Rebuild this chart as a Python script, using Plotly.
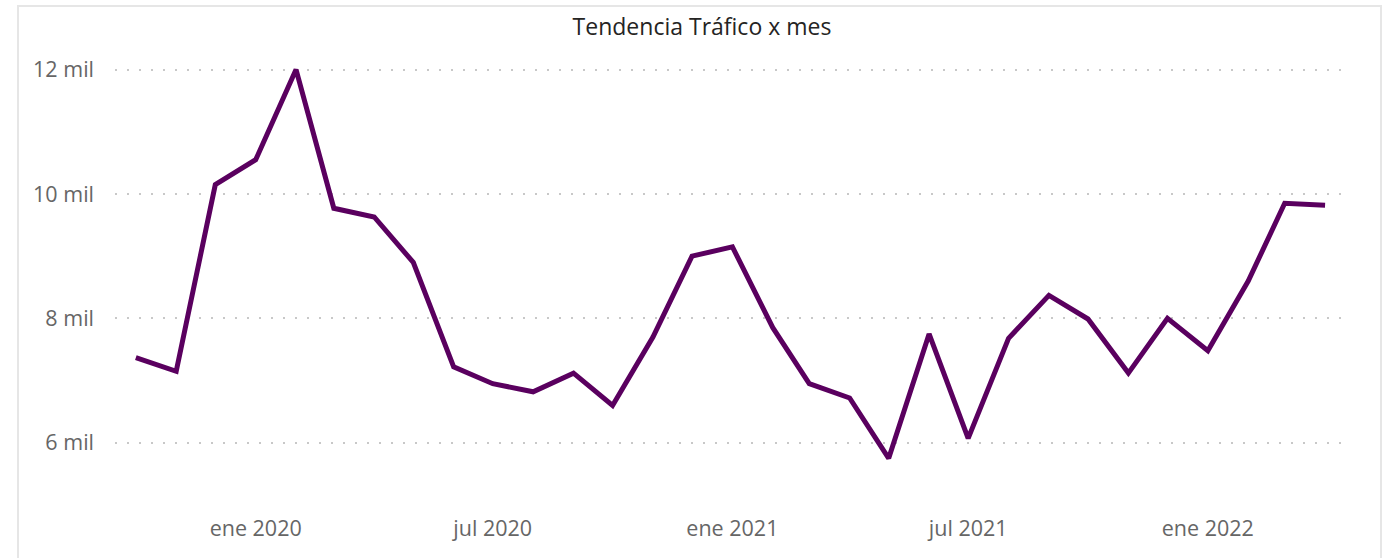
import plotly.graph_objects as go

months = ["2019-10-01","2019-11-01","2019-12-01","2020-01-01","2020-02-01","2020-03-01",
          "2020-04-01","2020-05-01","2020-06-01","2020-07-01","2020-08-01","2020-09-01",
          "2020-10-01","2020-11-01","2020-12-01","2021-01-01","2021-02-01","2021-03-01",
          "2021-04-01","2021-05-01","2021-06-01","2021-07-01","2021-08-01","2021-09-01",
          "2021-10-01","2021-11-01","2021-12-01","2022-01-01","2022-02-01","2022-03-01",
          "2022-04-01"]
traffic = [7370, 7150, 10150, 10550, 12000, 9770,
           9630, 8900, 7220, 6950, 6820, 7120,
           6600, 7700, 9000, 9150, 7850, 6950,
           6720, 5750, 7750, 6070, 7680, 8370,
           7990, 7120, 8000, 7480, 8600, 9850,
           9820]

x_tick_vals = ["2020-01-01", "2020-07-01", "2021-01-01", "2021-07-01", "2022-01-01"]
x_tick_text = ["ene 2020", "jul 2020", "ene 2021", "jul 2021", "ene 2022"]
y_tick_vals = [6000, 8000, 10000, 12000]
y_tick_text = ["6 mil", "8 mil", "10 mil", "12 mil"]

W, H = 1388, 558
ML, MR, MT, MB = 115, W - 1342, 54, H - 505

fig = go.Figure()
fig.add_trace(go.Scatter(
    x=months, y=traffic, mode="lines",
    line=dict(color="#5A005F", width=5),
    hoverinfo="x+y",
))

pw = W - ML - MR
ph = H - MT - MB
def px_to_paper_x(px):
    return (px - ML) / pw
def px_to_paper_y(py):
    return (H - MB - py) / ph

fig.add_shape(type="rect", xref="paper", yref="paper",
              x0=px_to_paper_x(18), x1=px_to_paper_x(1381),
              y0=px_to_paper_y(570), y1=px_to_paper_y(6),
              line=dict(color="#E6E6E6", width=2), fillcolor="rgba(0,0,0,0)", layer="below")

fig.update_layout(
    width=W, height=H, autosize=False,
    margin=dict(l=ML, r=MR, t=MT, b=MB, pad=0),
    paper_bgcolor="white", plot_bgcolor="white",
    showlegend=False,
    font=dict(family="Open Sans, Noto Sans, sans-serif", color="#666666", size=17),
    title=dict(text="Tendencia Tráfico x mes", x=702 / W, xref="container", xanchor="center",
               y=1 - 27 / H, yref="container", yanchor="middle",
               font=dict(size=23, color="#252423", family="Open Sans, Noto Sans, sans-serif")),
    xaxis=dict(
        type="date",
        range=["2019-09-15", "2022-04-14"],
        tickvals=x_tick_vals, ticktext=x_tick_text,
        showgrid=False, zeroline=False, showline=False, ticks="",
        ticklabelstandoff=8,
        tickfont=dict(size=21.5, color="#666666"),
    ),
    yaxis=dict(
        range=[5000, 12250],
        tickvals=y_tick_vals, ticktext=y_tick_text,
        showgrid=True, gridcolor="#C8C8C8", gridwidth=1.5, griddash="1.5px,10.5px",
        zeroline=False, showline=False, ticks="", ticklabelstandoff=20,
        tickfont=dict(size=21.5, color="#666666"),
    ),
)

fig.write_html("out.html", config={"displayModeBar": False},
               post_script="document.body.style.margin='0';")
